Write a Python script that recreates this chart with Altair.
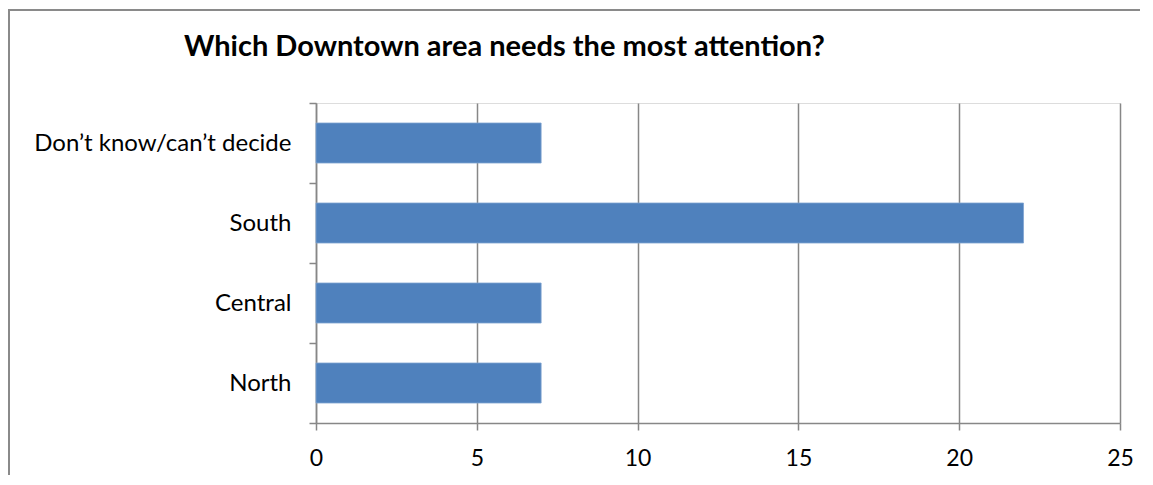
import altair as alt
import pandas as pd

categories = ["Don’t know/can’t decide", "South", "Central", "North"]
values = [7, 22, 7, 7]
x_ticks = [0, 5, 10, 15, 20, 25]
title_text = "Which Downtown area needs the most attention?"

df = pd.DataFrame({"area": categories, "count": values})

FONT = "Lato"
GRAY = "#878787"

bars = alt.Chart(df).mark_bar(color="#4F81BD", stroke="#7FA3D1", strokeWidth=0.8,
                              height=alt.RelativeBandSize(0.5)).encode(
    x=alt.X("count:Q", scale=alt.Scale(domain=[0, 25], nice=False),
            axis=alt.Axis(values=x_ticks, title=None, grid=True, gridColor=GRAY, gridWidth=1.5,
                          domainColor=GRAY, domainWidth=1.5, tickColor=GRAY, tickWidth=1.5,
                          tickSize=7, labelPadding=17, labelFontSize=23, labelFont=FONT,
                          labelColor="#000000", labelFlush=False)),
    y=alt.Y("area:N", sort=categories, scale=alt.Scale(paddingInner=0, paddingOuter=0),
            axis=alt.Axis(title=None, tickBand="extent", domainColor=GRAY, domainWidth=1.5,
                          tickColor=GRAY, tickWidth=1.5, tickSize=7, labelPadding=18,
                          labelFontSize=24, labelFont=FONT, labelColor="#000000", labelLimit=500)),
)

border = alt.Chart(pd.DataFrame({"b": [0]})).mark_rect(fill=None, stroke="#8a8a8a", strokeWidth=2).encode(
    x=alt.value(-307), x2=alt.value(900), y=alt.value(-93), y2=alt.value(420)
)

title = alt.Chart(pd.DataFrame({"t": [title_text]})).mark_text(
    align="left", baseline="middle", fontSize=29, font=FONT, fontWeight="bold", color="#000000"
).encode(text="t:N", x=alt.value(-132), y=alt.value(-56))

chart = alt.layer(border, bars, title).properties(
    width=804, height=320,
    autosize=alt.AutoSizeParams(type="none"),
    padding={"left": 308, "top": 95, "right": 20, "bottom": 52},
).configure_view(stroke=None).configure(background="white")

chart.save("out.html", embed_options={"renderer": "svg", "actions": False})
